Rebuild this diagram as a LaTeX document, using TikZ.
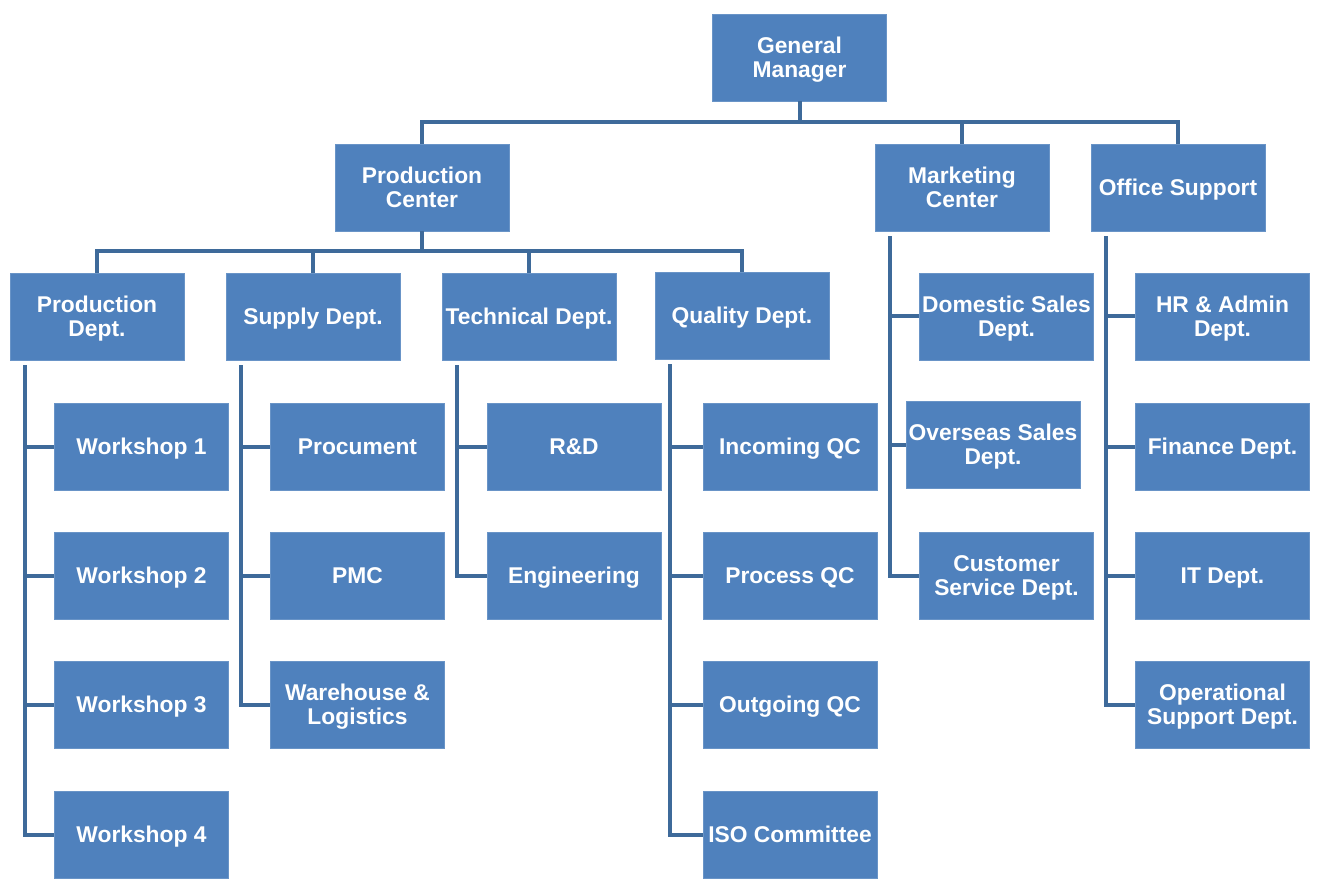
\documentclass[tikz,border=0pt]{standalone}
\usepackage{fontspec}
\setmainfont{Liberation Sans}
\definecolor{boxblue}{HTML}{4F81BD}
\definecolor{linkblue}{HTML}{3E6A9A}
\begin{document}
\begin{tikzpicture}[x=1pt,y=-1pt,
  box/.style={fill=boxblue,draw=boxblue!85!white,line width=0.8pt,text=white,
    font=\fontsize{22.8}{24}\selectfont\bfseries,align=center,text depth=0pt,
    minimum width=174pt,minimum height=87pt,inner sep=0pt},
  link/.style={draw=linkblue,line width=4pt}]
\useasboundingbox[fill=white] (0,0) rectangle (1320,890);
% level 0 / 1
\node[box] (gm) at (799.5,57.5) {General\\Manager};
\node[box] (pc) at (422,187.5) {Production\\Center};
\node[box] (mc) at (962,187.5) {Marketing\\Center};
\node[box] (os) at (1178,187.5) {Office Support};
% level 2
\node[box] (pd) at (97,316.5) {Production\\Dept.};
\node[box] (sd) at (313,316.5) {Supply Dept.};
\node[box] (td) at (529,316.5) {Technical Dept.};
\node[box] (qd) at (742,315.5) {Quality Dept.};
% production dept
\node[box] (w1) at (141.5,446.5) {Workshop 1};
\node[box] (w2) at (141.5,575.5) {Workshop 2};
\node[box] (w3) at (141.5,704.5) {Workshop 3};
\node[box] (w4) at (141.5,834.5) {Workshop 4};
% supply
\node[box] (s1) at (357.5,446.5) {Procument};
\node[box] (s2) at (357.5,575.5) {PMC};
\node[box] (s3) at (357.5,704.5) {Warehouse \&\\Logistics};
% technical
\node[box] (t1) at (574,446.5) {R\&D};
\node[box] (t2) at (574,575.5) {Engineering};
% quality
\node[box] (q1) at (790,446.5) {Incoming QC};
\node[box] (q2) at (790,575.5) {Process QC};
\node[box] (q3) at (790,704.5) {Outgoing QC};
\node[box] (q4) at (790,834.5) {ISO Committee};
% marketing
\node[box] (m1) at (1006.5,316.5) {Domestic Sales\\Dept.};
\node[box] (m2) at (993,444.5) {Overseas Sales\\Dept.};
\node[box] (m3) at (1006.5,575.5) {Customer\\Service Dept.};
% office support
\node[box] (o1) at (1222.5,316.5) {HR \& Admin\\Dept.};
\node[box] (o2) at (1222.5,446.5) {Finance Dept.};
\node[box] (o3) at (1222.5,575.5) {IT Dept.};
\node[box] (o4) at (1222.5,704.5) {Operational\\Support Dept.};
% connectors GM
\coordinate (gmbus) at (799.5,122);
\draw[link] (gm.south) -- (gmbus);
\draw[link] (gmbus) -| (pc.north);
\draw[link] (gmbus) -| (mc.north);
\draw[link] (gmbus) -| (os.north);
% connectors PC
\coordinate (pcbus) at (422,251);
\draw[link] (pc.south) -- (pcbus);
\draw[link] (pcbus) -| (pd.north);
\draw[link] (pcbus) -| (sd.north);
\draw[link] (pcbus) -| (td.north);
\draw[link] (pcbus) -| (qd.north);
% side trees
\foreach \p/\c in {pd/w1,pd/w2,pd/w3,pd/w4,sd/s1,sd/s2,sd/s3,td/t1,td/t2,qd/q1,qd/q2,qd/q3,qd/q4,mc/m1,mc/m2,mc/m3,os/o1,os/o2,os/o3,os/o4}
  \draw[link] ([xshift=15pt,yshift=-5pt]\p.south west) |- (\c.west);
\end{tikzpicture}
\end{document}
